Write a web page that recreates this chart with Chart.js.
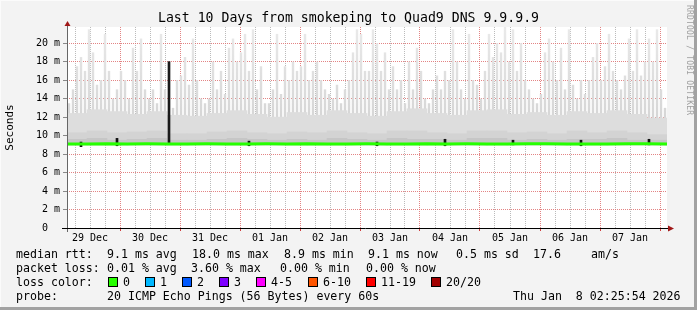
<!DOCTYPE html>
<html>
<head>
<meta charset="utf-8">
<script src="https://cdn.jsdelivr.net/npm/chart.js@4/dist/chart.umd.min.js"></script>
<style>
  html, body { margin:0; padding:0; background:#f3f3f3; }
  #wrap { position:relative; width:697px; height:310px; overflow:hidden; font-family:'DejaVu Sans Mono', monospace; color:#000; }
  #c { position:absolute; left:0; top:0; }
  .t { position:absolute; white-space:pre; font-size:11.6px; line-height:14px; }
  .sw { position:absolute; width:8px; height:8px; border:1px solid #000; }
  #title { position:absolute; left:0; width:697px; top:10px; text-align:center; font-size:13.2px; white-space:pre; }
  #mark { position:absolute; left:682px; top:5px; font-size:8px; color:#a0a0a0; font-family:'DejaVu Sans Mono', monospace; transform-origin:0 0; transform:translate(12px,0) rotate(90deg); white-space:pre; letter-spacing:0.2px; }
</style>
</head>
<body>
<div id="wrap">
  <canvas id="c" width="697" height="310"></canvas>
  <div id="title">Last 10 Days from smokeping to Quad9 DNS 9.9.9.9</div>
  <div id="mark">RRDTOOL / TOBI OETIKER</div>
  <div id="legend"></div>
</div>
<script>
// day labels sit at noon of each day; x values are hours after 29 Dec 00:00
const dayLabels = ['29 Dec','30 Dec','31 Dec','01 Jan','02 Jan','03 Jan','04 Jan','05 Jan','06 Jan','07 Jan'];
const startHour = 2.8;
const spanHours = 240;

// smoke peaks (ms), 150 bins of ~1.6 h
const peakTop = [
  13.5,15,17.5,18.5,17,21.5,19,15.5,16,21,17,14,15,17,16,14,19.5,17,20.5,15,14,15,13.5,21,15,
  12,13,16,16.5,18.5,15.5,20.5,16,14,13.5,14,18,15,17,14.5,19.5,20.5,18,19,21,17,21.5,15,17.5,13.5,
  13.5,15,21,14.5,17.5,16,18,17,17.5,21,16,17,18,16,15,14.5,14,15.5,13.5,15,16,19,21.5,21,17,
  17,21.5,20,17,19,15,17.5,15,16,13.5,18,15,19.5,17,14,13.5,15,16.5,15,17,16,21.5,18,15,14,
  21,16,15.5,14,17,21,18.5,20,19,22,18,21.5,17,20,16,15,14,13.5,14.5,19,20.5,18,16,19.5,15,
  21.5,15.5,14,16,14.5,16,18.5,20,16,17.5,21,17,16,15,16.5,20.5,17,21.5,16.5,18,20.5,18,21.5,15,13
];
// dense smoke body (ms), 30 bins of 8 h
const bodyTop = [
  12.4,12.8,12.6,12.3,12.6,12.2,
  12.1,12.4,12.7,12.3,12.0,12.5,
  12.2,12.7,12.4,12.1,12.6,12.9,
  12.4,12.2,12.7,12.8,12.3,12.5,
  12.2,12.6,12.4,12.7,12.3,11.9
];
// darker smoke near the median (ms), 30 bins
const midTop = [
  10.3,10.5,10.3,10.4,10.5,10.2,
  10.2,10.4,10.5,10.3,10.2,10.4,
  10.3,10.5,10.3,10.2,10.5,10.5,
  10.3,10.2,10.5,10.5,10.3,10.4,
  10.2,10.5,10.3,10.5,10.3,10.1
];
const lowTop = [
  9.6,9.7,9.5,9.6,9.7,9.5,9.5,9.6,9.7,9.6,9.5,9.6,9.5,9.7,9.6,
  9.5,9.7,9.6,9.6,9.5,9.7,9.7,9.5,9.6,9.5,9.6,9.6,9.7,9.5,9.5
];
// median rtt (ms), 31 points across the period
const median = [
  9.10,9.08,9.12,9.10,9.11,9.09,9.10,9.12,9.10,9.09,9.11,
  9.10,9.12,9.08,9.10,9.11,9.10,9.09,9.12,9.10,9.11,
  9.10,9.09,9.11,9.12,9.10,9.08,9.10,9.11,9.12,9.10
];
// single median excursion to the max
const spikeBin = 25;
const spikeTop = 18.0;
// small loss marks on the median line
const lossBins = [3,12,45,77,94,111,128,145];
const lossLow = [8.8,8.9,8.9,8.9,8.9,9.0,8.9,9.0];
const lossHigh = [9.3,9.7,9.4,9.3,9.6,9.5,9.5,9.6];

const smokeBase = 9.0;
const yMax = 21.75;

const peakCats = peakTop.map((_, i) => i);
const blockCats = bodyTop.map((_, i) => i);
const medCats = median.map((_, i) => i);

const spikeData = peakTop.map((_, i) => i === spikeBin ? [median[Math.round(i / 5)], spikeTop] : null);
const lossData = peakTop.map((_, i) => {
  const k = lossBins.indexOf(i);
  return k >= 0 ? [lossLow[k], lossHigh[k]] : null;
});

// peaks fade out with height, like the thinning smoke
let peakFill = null;
function peakColor(ctx) {
  const chart = ctx.chart;
  const y = chart.scales.y;
  if (!chart.chartArea || !y) return '#dcdcdc';
  if (!peakFill) {
    peakFill = chart.ctx.createLinearGradient(0, y.getPixelForValue(12), 0, y.getPixelForValue(21.5));
    peakFill.addColorStop(0, '#d6d6d6');
    peakFill.addColorStop(1, '#e9e9e9');
  }
  return peakFill;
}

const decor = {
  id: 'decor',
  beforeDraw(chart) {
    const { ctx, chartArea: a } = chart;
    ctx.save();
    ctx.fillStyle = '#f3f3f3';
    ctx.fillRect(0, 0, chart.width, chart.height);
    ctx.fillStyle = '#ffffff';
    ctx.fillRect(a.left, a.top, a.right - a.left, a.bottom - a.top);
    ctx.restore();
  },
  afterDraw(chart) {
    const { ctx, chartArea: a } = chart;
    ctx.save();
    // y axis
    ctx.strokeStyle = '#666';
    ctx.lineWidth = 1;
    ctx.beginPath();
    ctx.moveTo(a.left + 0.5, a.bottom + 4);
    ctx.lineTo(a.left + 0.5, a.top - 3);
    ctx.stroke();
    // x axis
    ctx.strokeStyle = '#000';
    ctx.beginPath();
    ctx.moveTo(a.left - 5, a.bottom + 0.5);
    ctx.lineTo(a.right + 2, a.bottom + 0.5);
    ctx.stroke();
    // arrows
    ctx.fillStyle = '#a01818';
    ctx.beginPath();
    ctx.moveTo(a.left + 0.5, a.top - 6);
    ctx.lineTo(a.left - 2.5, a.top - 1);
    ctx.lineTo(a.left + 3.5, a.top - 1);
    ctx.closePath();
    ctx.fill();
    ctx.beginPath();
    ctx.moveTo(a.right + 7, a.bottom + 0.5);
    ctx.lineTo(a.right + 1, a.bottom - 2.5);
    ctx.lineTo(a.right + 1, a.bottom + 3.5);
    ctx.closePath();
    ctx.fill();
    // frame
    ctx.fillStyle = '#a2a2a2';
    ctx.fillRect(chart.width - 3, 0, 3, chart.height);
    ctx.fillRect(0, chart.height - 3, chart.width, 3);
    ctx.fillStyle = '#fbfbfb';
    ctx.fillRect(0, 0, chart.width - 3, 1);
    ctx.fillRect(0, 0, 1, chart.height - 3);
    ctx.restore();
  }
};

const redGrid = 'rgba(222,110,110,0.85)';
const greyGrid = 'rgba(175,175,175,0.85)';

new Chart(document.getElementById('c').getContext('2d'), {
  data: {
    datasets: [
      { type: 'line', label: 'median', xAxisID: 'xm', data: median, borderColor: '#26ff00', borderWidth: 3, pointRadius: 0, tension: 0, order: 0 },
      { type: 'bar', label: 'loss', xAxisID: 'xp', data: lossData, backgroundColor: '#111', barThickness: 2, grouped: false, order: 1 },
      { type: 'bar', label: 'spike', xAxisID: 'xp', data: spikeData, backgroundColor: '#1a1a1a', barThickness: 2, grouped: false, order: 1 },
      { type: 'bar', label: 'low', xAxisID: 'xb', data: lowTop.map(v => [smokeBase, v]), backgroundColor: '#c6c6c6', barPercentage: 1, categoryPercentage: 1, grouped: false, order: 2 },
      { type: 'bar', label: 'mid', xAxisID: 'xb', data: midTop.map(v => [smokeBase, v]), backgroundColor: '#d3d3d3', barPercentage: 1, categoryPercentage: 1, grouped: false, order: 3 },
      { type: 'bar', label: 'body', xAxisID: 'xb', data: bodyTop.map(v => [smokeBase, v]), backgroundColor: '#dddddd', barPercentage: 1, categoryPercentage: 1, grouped: false, order: 4 },
      { type: 'bar', label: 'peaks', xAxisID: 'xp', data: peakTop.map(v => [smokeBase, v]), backgroundColor: peakColor, barPercentage: 0.6, categoryPercentage: 1, grouped: false, order: 5 }
    ]
  },
  options: {
    responsive: false,
    animation: false,
    layout: { padding: { top: 27, right: 30, left: 0, bottom: 0 } },
    plugins: { legend: { display: false }, tooltip: { enabled: false }, title: { display: false } },
    scales: {
      xp: { type: 'category', labels: peakCats, display: false, offset: true },
      xb: { type: 'category', labels: blockCats, display: false, offset: true },
      xm: { type: 'category', labels: medCats, display: false, offset: false },
      x: {
        type: 'linear', position: 'bottom', min: startHour, max: startHour + spanHours, z: 1,
        afterFit: s => { s.height = 82; },
        afterBuildTicks: s => {
          const t = [];
          for (let h = 6; h < startHour + spanHours; h += 6) if (h > startHour) t.push({ value: h });
          s.ticks = t;
        },
        border: { display: false, dash: [1, 1] },
        grid: {
          color: c => c.tick && c.tick.value % 24 === 0 ? redGrid : greyGrid,
          tickColor: c => c.tick && c.tick.value % 24 === 0 ? '#d04040' : 'rgba(0,0,0,0)',
          tickBorderDash: [], tickLength: 3, lineWidth: 1
        },
        ticks: {
          autoSkip: false, maxRotation: 0, padding: 1, color: '#000',
          font: { family: 'DejaVu Sans Mono', size: 10 },
          callback: v => (v % 24 === 12 ? dayLabels[(v - 12) / 24] : '')
        }
      },
      y: {
        type: 'linear', position: 'left', min: 0, max: yMax, z: 1,
        afterFit: s => { s.width = 67; },
        afterBuildTicks: s => {
          const t = [];
          for (let v = 0; v <= yMax; v += 1) t.push({ value: v });
          s.ticks = t;
        },
        border: { display: false, dash: [1, 1] },
        title: { display: true, text: 'Seconds', color: '#000', font: { family: 'DejaVu Sans Mono', size: 11 }, padding: { top: 4, bottom: 0 } },
        grid: {
          color: c => c.tick && c.tick.value === 0 ? 'rgba(0,0,0,0)' : (c.tick && c.tick.value % 2 === 0 ? redGrid : greyGrid),
          tickColor: c => c.tick && c.tick.value % 2 === 0 ? '#888' : 'rgba(0,0,0,0)',
          tickBorderDash: [], tickLength: 4, lineWidth: 1
        },
        ticks: {
          padding: 3, color: '#000', font: { family: 'DejaVu Sans Mono', size: 10 },
          callback: v => (v === 0 ? '0  ' : (v % 2 === 0 ? v + ' m' : ''))
        }
      }
    }
  },
  plugins: [decor]
});

// legend lines under the graph
const legendRows = [
  { y: 247, items: [[16, 'median rtt:'], [107, '9.1 ms avg'], [192, '18.0 ms max'], [284, '8.9 ms min'], [368, '9.1 ms now'], [456, '0.5 ms sd'], [533, '17.6'], [591, 'am/s']] },
  { y: 261, items: [[16, 'packet loss:'], [107, '0.01 % avg'], [191, '3.60 % max'], [280, '0.00 % min'], [366, '0.00 % now']] },
  { y: 275, items: [[16, 'loss color:']] },
  { y: 289, items: [[16, 'probe:'], [107, '20 ICMP Echo Pings (56 Bytes) every 60s'], [513, 'Thu Jan  8 02:25:54 2026']] }
];
const lossNames = ['0', '1', '2', '3', '4-5', '6-10', '11-19', '20/20'];
const lossColors = ['#26ff00', '#00b8ff', '#0059ff', '#7e00ff', '#ff00ff', '#ff5500', '#ff0000', '#a10000'];
const lossSwatchX = [108, 145, 182, 219, 256, 308, 366, 431];

const leg = document.getElementById('legend');
legendRows.forEach(r => r.items.forEach(([x, txt]) => {
  const d = document.createElement('div'); d.className = 't';
  d.style.left = x + 'px'; d.style.top = r.y + 'px'; d.textContent = txt;
  leg.appendChild(d);
}));
lossNames.forEach((n, i) => {
  const s = document.createElement('div'); s.className = 'sw';
  s.style.left = lossSwatchX[i] + 'px'; s.style.top = '277px'; s.style.background = lossColors[i];
  leg.appendChild(s);
  const d = document.createElement('div'); d.className = 't';
  d.style.left = (lossSwatchX[i] + 15) + 'px'; d.style.top = '275px'; d.textContent = n;
  leg.appendChild(d);
});
</script>
</body>
</html>
